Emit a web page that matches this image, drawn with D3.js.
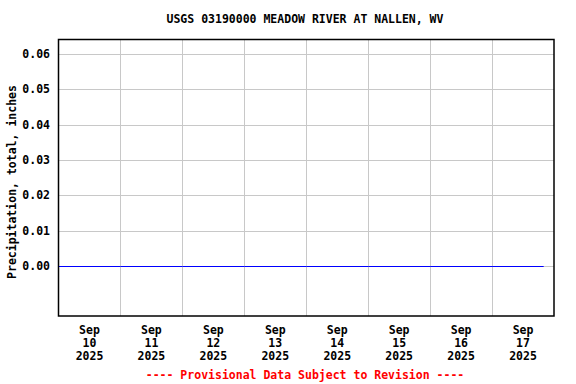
<!DOCTYPE html>
<html>
<head>
<meta charset="utf-8">
<script src="https://cdn.jsdelivr.net/npm/d3@7"></script>
<style>
  body { margin: 0; background: #fff; }
  text { font-family: "DejaVu Sans Mono", "Liberation Mono", monospace; font-weight: bold; }
</style>
</head>
<body>
<svg id="chart" width="576" height="384"></svg>
<script>
// Precipitation readings (inches)
const obsTimes = ["2025-09-10T00:00", "2025-09-11T00:00", "2025-09-12T00:00", "2025-09-13T00:00",
  "2025-09-14T00:00", "2025-09-15T00:00", "2025-09-16T00:00", "2025-09-17T00:00", "2025-09-17T20:00"];
const obsValues = [0, 0, 0, 0, 0, 0, 0, 0, 0];

const yTicks = [0, 0.01, 0.02, 0.03, 0.04, 0.05, 0.06];
const dayLabels = ["2025-09-10", "2025-09-11", "2025-09-12", "2025-09-13",
  "2025-09-14", "2025-09-15", "2025-09-16", "2025-09-17"];

const title = "USGS 03190000 MEADOW RIVER AT NALLEN, WV";
const yTitle = "Precipitation, total, inches";
const footer = "---- Provisional Data Subject to Revision ----";

const margin = { left: 58.5, top: 39.5, right: 554, bottom: 316 };
const parse = d3.timeParse("%Y-%m-%dT%H:%M");
const parseDay = d3.timeParse("%Y-%m-%d");

const svg = d3.select("#chart");

const x = d3.scaleTime()
  .domain([parseDay("2025-09-10"), parseDay("2025-09-18")])
  .range([margin.left, margin.right]);
const y = d3.scaleLinear()
  .domain([-0.01415, 0.0641])
  .range([margin.bottom, margin.top]);

// grid
const days = d3.timeDay.range(parseDay("2025-09-11"), parseDay("2025-09-18"));
svg.append("g").selectAll("line").data(days).enter().append("line")
  .attr("x1", d => Math.round(x(d)) + 0.5).attr("x2", d => Math.round(x(d)) + 0.5)
  .attr("y1", margin.top).attr("y2", margin.bottom)
  .attr("stroke", "#c8c8c8").attr("stroke-width", 1);

svg.append("g").selectAll("line").data(yTicks).enter().append("line")
  .attr("x1", margin.left).attr("x2", margin.right)
  .attr("y1", d => Math.round(y(d)) + 0.5).attr("y2", d => Math.round(y(d)) + 0.5)
  .attr("stroke", "#c8c8c8").attr("stroke-width", 1);

// data line
const line = d3.line()
  .x((d, i) => x(parse(obsTimes[i])))
  .y(d => Math.round(y(d)) + 0.5);
svg.append("path").datum(obsValues)
  .attr("d", line)
  .attr("fill", "none").attr("stroke", "#0000ff").attr("stroke-width", 1);

// frame
svg.append("rect")
  .attr("x", margin.left).attr("y", margin.top)
  .attr("width", margin.right - margin.left).attr("height", margin.bottom - margin.top)
  .attr("fill", "none").attr("stroke", "#000").attr("stroke-width", 1.5);

// y tick labels
svg.append("g").selectAll("text").data(yTicks).enter().append("text")
  .attr("x", 50).attr("y", d => y(d) + 4)
  .attr("text-anchor", "end").attr("font-size", 11.5)
  .text(d => d3.format(".2f")(d));

// x labels
const xl = svg.append("g").selectAll("text").data(dayLabels).enter().append("text")
  .attr("text-anchor", "middle").attr("font-size", 11.5)
  .attr("transform", d => `translate(${x(d3.timeHour.offset(parseDay(d), 12))},0)`);
xl.append("tspan").attr("x", 0).attr("y", 334).text(d => d3.timeFormat("%b")(parseDay(d)));
xl.append("tspan").attr("x", 0).attr("y", 347).text(d => d3.timeFormat("%d")(parseDay(d)));
xl.append("tspan").attr("x", 0).attr("y", 360).text(d => d3.timeFormat("%Y")(parseDay(d)));

svg.append("text").attr("x", 305).attr("y", 23)
  .attr("text-anchor", "middle").attr("font-size", 11.5).text(title);

svg.append("text").attr("transform", "translate(16,182) rotate(-90)")
  .attr("text-anchor", "middle").attr("font-size", 11.5).text(yTitle);

svg.append("text").attr("x", 305).attr("y", 379)
  .attr("text-anchor", "middle").attr("font-size", 11.5).attr("fill", "#ff0000").text(footer);
</script>
</body>
</html>
